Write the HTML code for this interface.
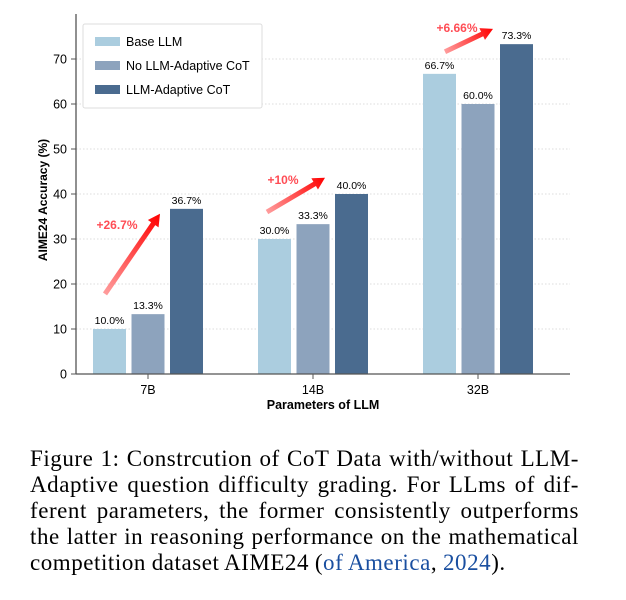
<!DOCTYPE html>
<html><head><meta charset="utf-8"><style>
body{margin:0;background:#fff;width:626px;height:600px;overflow:hidden;position:relative}
svg text{font-family:"Liberation Sans",sans-serif}
#cap{position:absolute;left:30px;top:446px;width:549px;font-family:"Liberation Serif",serif;font-size:23px;letter-spacing:0.55px;word-spacing:-0.5px;line-height:26px;color:#000}
#cap div{text-align:justify;text-align-last:justify;white-space:nowrap}
#cap div.last{text-align-last:left}
#cap a{color:#1a4fa0;text-decoration:none}
</style></head><body>
<svg id="chart" width="626" height="430">
<g id="grid"></g><g id="bars"></g><g id="axes"></g><g id="ann"></g>
<g>
<rect x="83" y="24" width="179" height="84" rx="2" fill="#fff" stroke="#ddd"/>
<rect x="95" y="37" width="25" height="9" fill="#abcddf"/><text x="126" y="46" font-size="12.5">Base LLM</text>
<rect x="95" y="61" width="25" height="9" fill="#8da3bd"/><text x="126" y="70" font-size="12.5">No LLM-Adaptive CoT</text>
<rect x="95" y="85" width="25" height="9" fill="#4a6b8f"/><text x="126" y="94" font-size="12.5">LLM-Adaptive CoT</text>
</g>
<text transform="translate(47,200) rotate(-90)" text-anchor="middle" font-size="12" font-weight="bold">AIME24 Accuracy (%)</text>
<text x="323" y="409" text-anchor="middle" font-size="12.5" font-weight="bold">Parameters of LLM</text>
</svg>
<div id="cap">
<div>Figure 1: Constrcution of CoT Data with/without LLM-</div>
<div>Adaptive question difficulty grading. For LLms of dif-</div>
<div>ferent parameters, the former consistently outperforms</div>
<div>the latter in reasoning performance on the mathematical</div>
<div class="last">competition dataset AIME24 (<a>of America</a>, <a>2024</a>).</div>
</div>
<script>
const categories=["7B","14B","32B"];
const baseLLM=[10.0,30.0,66.7];
const noAdaptive=[13.3,33.3,60.0];
const adaptive=[36.7,40.0,73.3];
const yTicks=[0,10,20,30,40,50,60,70];
const gains=["+26.7%","+10%","+6.66%"];
const arrowFrom=[17.8,36.0,71.6];
const arrowTo=[35.6,43.6,76.7];
const NS="http://www.w3.org/2000/svg";
const y=v=>374-v*4.5;
const xc=i=>148+i*165;
const arrowDx0=[-43,-46,-33], arrowDx1=[12,12,15], labDx=[-31,-30,-21], labY=[229,184,32];
function mk(t,a,p){const e=document.createElementNS(NS,t);for(const k in a)e.setAttribute(k,a[k]);(p||document.getElementById('chart')).appendChild(e);return e;}
const G=document.getElementById('grid'),B=document.getElementById('bars'),A=document.getElementById('axes'),N=document.getElementById('ann');
yTicks.forEach(v=>{
 if(v>0){const g=mk('line',{x1:76,x2:570,y1:y(v),y2:y(v),stroke:'#ddd','stroke-dasharray':'1.5,2'},G);
 
 }
 mk('line',{x1:71,x2:76,y1:y(v),y2:y(v),stroke:'#555'},A);
 const t=mk('text',{x:67,y:y(v)+4.5,'text-anchor':'end','font-size':12.5},A);t.textContent=v;
 
 
});
mk('line',{x1:76,x2:76,y1:14,y2:374,stroke:'#555','stroke-width':1.3},A);
mk('line',{x1:76,x2:570,y1:374,y2:374,stroke:'#555','stroke-width':1.3},A);
const series=[[baseLLM,'#abcddf'],[noAdaptive,'#8da3bd'],[adaptive,'#4a6b8f']];
categories.forEach((c,i)=>{
 series.forEach(([arr,col],j)=>{
  const x=xc(i)-55+j*38.5;
  const r=mk('rect',{x:x,y:y(arr[i]),width:33,height:374-y(arr[i]),fill:col},B);
  
  
  const t=mk('text',{x:x+16.5,y:y(arr[i])-5,'text-anchor':'middle','font-size':10.5},B);t.textContent=arr[i].toFixed(1)+'%';
  
  
 });
 mk('line',{x1:xc(i),x2:xc(i),y1:374,y2:379,stroke:'#555'},A);
 const t=mk('text',{x:xc(i),y:394,'text-anchor':'middle','font-size':12.5},A);t.textContent=c;
 
 
 const x0=xc(i)+arrowDx0[i], y0=y(arrowFrom[i]), x1=xc(i)+arrowDx1[i], y1=y(arrowTo[i]);
 const dx=x1-x0,dy=y1-y0,L=Math.hypot(dx,dy),ux=dx/L,uy=dy/L,px=-uy,py=ux;
 const hx=x1-ux*12,hy=y1-uy*12;
 const g=mk('g',{},N);
 
 
 const gid='g'+i;
 const lg=mk('linearGradient',{id:gid,gradientUnits:'userSpaceOnUse',x1:x0,y1:y0,x2:x1,y2:y1},g);
 mk('stop',{offset:0,'stop-color':'#ff9d9d'},lg);mk('stop',{offset:1,'stop-color':'#ff0000'},lg);
 mk('polygon',{points:`${x0+px*2.5},${y0+py*2.5} ${hx+px*2.5},${hy+py*2.5} ${hx+px*6.5},${hy+py*6.5} ${x1},${y1} ${hx-px*6.5},${hy-py*6.5} ${hx-px*2.5},${hy-py*2.5} ${x0-px*2.5},${y0-py*2.5}`,fill:`url(#${gid})`},g);
 const lt=mk('text',{x:xc(i)+labDx[i],y:labY[i],'text-anchor':'middle','font-size':12,'font-weight':'bold',fill:'#ff4d55'},N);
 lt.textContent=gains[i];
 
 
});
</script>
</body></html>
